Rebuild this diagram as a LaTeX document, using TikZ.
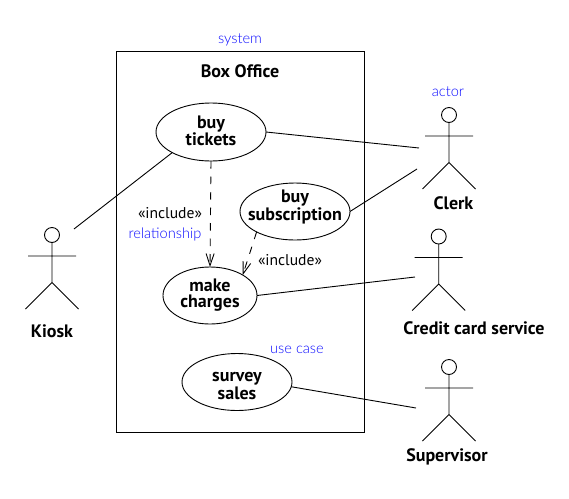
\documentclass[tikz,border=0pt]{standalone}
\usepackage{fontspec}
\setmainfont{PT Sans}
\newfontfamily\notefont{Lato Light}
\usetikzlibrary{shapes.geometric,arrows.meta}
\definecolor{noteblue}{RGB}{10,10,255}
\tikzset{
  usecase/.style={draw,ellipse,inner xsep=-25pt,inner ysep=-12pt,outer sep=0pt,align=center,font=\fontsize{18}{16.2}\selectfont\bfseries,line width=0.9pt},
  role/.style={font=\fontsize{18}{18}\selectfont\bfseries,inner sep=0pt},
  note/.style={text=noteblue,font=\fontsize{14.6}{15}\notefont,inner sep=0pt},
  plain/.style={font=\fontsize{15.6}{16}\selectfont,inner sep=0pt},
  assoc/.style={line width=0.9pt},
  dep/.style={line width=0.9pt,dash pattern=on 7.5pt off 8pt,-{Straight Barb[length=12pt,width=8pt,line width=0.9pt]}},
  stick/.pic={
    \draw[line width=0.9pt] (0,0) circle[radius=7.5];
    \draw[line width=0.9pt] (0,7.5) -- (0,47.5) (-24,21) -- (24,21) (-26.5,74) -- (0,47.5) -- (26.5,74);
  }
}
\begin{document}
\begin{tikzpicture}[x=1pt,y=-1pt]
\useasboundingbox (0,0) rectangle (569,498);
\fill[white] (0,0) rectangle (569,498);
\coordinate (boxtl) at (116,51);
\coordinate (boxbr) at (364,432);
\draw[line width=0.9pt] (boxtl) rectangle (boxbr);
\node[role] (title) at (240,71) {Box Office};
\node[note] (system) at (240,39.5) {system};
\node[note] (actor) at (448,91.5) {actor};
\node[note] (relationship) at (165,234) {relationship};
\node[note] (usecase) at (297,350) {use case};
\node[plain] (inc1) at (170,213) {«include»};
\node[plain] (inc2) at (290,260) {«include»};

\node[usecase,minimum width=110pt,minimum height=58pt] (tickets) at (211,132) {buy\\tickets\rule[-3pt]{0pt}{3pt}};
\node[usecase,minimum width=110pt,minimum height=57pt] (subs) at (295,211.5) {buy\\subscription\rule[-13pt]{0pt}{13pt}};
\node[usecase,minimum width=94pt,minimum height=57pt] (charges) at (210,295.5) {make\\charges};
\node[usecase,minimum width=110pt,minimum height=57pt] (survey) at (237,382) {\rule{0pt}{17pt}survey\\sales};

\pic at (449,115) {stick};
\pic at (438.7,236.5) {stick};
\pic at (52,235) {stick};
\pic at (449,367) {stick};

\node[role] (clerk) at (453.5,203) {Clerk};
\node[role] (credit) at (474,328) {Credit card service};
\node[role] (kiosk) at (52,331) {Kiosk};
\node[role] (supervisor) at (447,457) {Supervisor};

\coordinate (c1) at (419,148);
\coordinate (c2) at (417,169);
\coordinate (c3) at (415,277);
\coordinate (c4) at (416,408);
\coordinate (c5) at (74,229);
\draw[assoc] (tickets.east) -- (c1);
\draw[assoc] (subs.east) -- (c2);
\draw[assoc] (charges.east) -- (c3);
\draw[assoc] (survey.355) -- (c4);
\draw[assoc] (tickets.208) -- (c5);
\draw[dep] (tickets.south) -- (charges.north);
\draw[dep] (subs.208) -- (charges.32);
\end{tikzpicture}
\end{document}
